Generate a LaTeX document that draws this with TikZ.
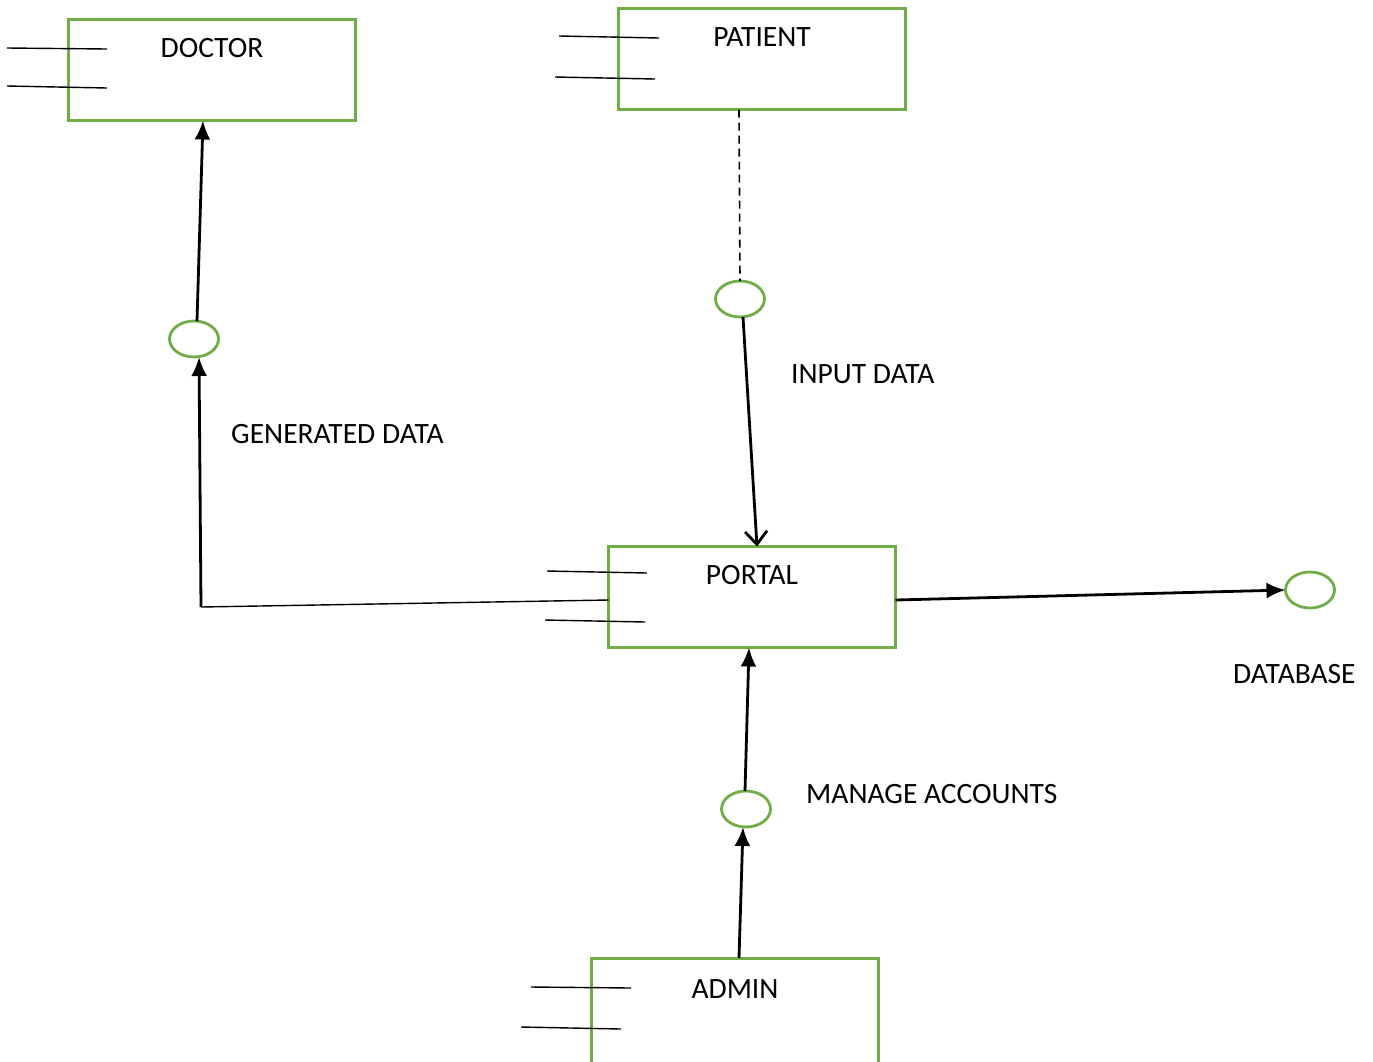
\documentclass[tikz,border=0pt]{standalone}
\usepackage{fontspec}
\setmainfont{Carlito}
\usetikzlibrary{arrows.meta,shapes.geometric,calc}
\definecolor{boxgreen}{RGB}{112,173,71}
\begin{document}
\begin{tikzpicture}[x=1pt,y=-1pt,
  entity/.style={draw=boxgreen,line width=3pt,rectangle,minimum width=287pt,minimum height=101pt,inner sep=0pt,outer sep=0pt},
  proc/.style={draw=boxgreen,line width=2.8pt,ellipse,minimum width=49pt,minimum height=36pt,inner sep=0pt,outer sep=0pt},
  lbl/.style={font=\fontsize{29.5}{33}\selectfont,inner sep=0pt,text depth=0pt},
  flow/.style={line width=2.8pt,-{Latex[length=19pt,width=16pt]}},
  openflow/.style={line width=2.8pt,-{Straight Barb[length=13pt,width=22pt]}},
  thin/.style={line width=1.4pt},
  dashline/.style={line width=1.6pt,dash pattern=on 8pt off 5pt}]
\useasboundingbox (0,0) rectangle (1373,1061);
\clip (0,0) rectangle (1373,1061);
\fill[white] (0,0) rectangle (1373,1061);

% entities
\node[entity] (doctor) at (212,70) {};
\node[entity] (patient) at (762,59) {};
\node[entity] (portal) at (752,597) {};
\node[entity, minimum height=110pt] (admin) at (735,1013) {};

\node[lbl,anchor=base] (doctorT) at (212,57) {DOCTOR};
\node[lbl,anchor=base] (patientT) at (762,46) {PATIENT};
\node[lbl,anchor=base] (portalT) at (752,584) {PORTAL};
\node[lbl,anchor=base] (adminT) at (735,998) {ADMIN};

% side strokes
\draw[thin] (7,48) -- (107,49);
\draw[thin] (7,86) -- (107,88);
\draw[thin] (559,36) -- (659,38);
\draw[thin] (555,77) -- (655,79);
\draw[thin] (547,571) -- (647,573);
\draw[thin] (545,620) -- (645,622);
\draw[thin] (531,987) -- (631,988);
\draw[thin] (521,1027) -- (621,1029);

% processes
\node[proc] (e1) at (194,339) {};
\node[proc] (e2) at (740,299) {};
\node[proc] (e3) at (1310,590) {};
\node[proc] (e4) at (746,809) {};

% labels
\node[lbl,anchor=base west] (l1) at (231,443) {GENERATED DATA};
\node[lbl,anchor=base west] (l2) at (791,383) {INPUT DATA};
\node[lbl,anchor=base west] (l3) at (1233,683) {DATABASE};
\node[lbl,anchor=base west] (l4) at (806,803) {MANAGE ACCOUNTS};

% connectors
\coordinate (corner) at (201,607);
\draw[thin] (corner) -- ([yshift=-3pt]portal.west);
\draw[flow] (corner) -- ([xshift=5pt]e1.south);
\draw[flow] ([xshift=3pt]e1.north) -- ([xshift=-9pt]doctor.south);
\draw[dashline] ([xshift=-23pt]patient.south) -- (e2.north);
\draw[openflow] ([xshift=3pt]e2.south) -- ([xshift=5pt]portal.north);
\draw[flow] ([yshift=-3pt]portal.east) -- (e3.west);
\draw[flow] ([xshift=4pt]admin.north) -- ([xshift=-3pt]e4.south);
\draw[flow] ([xshift=-1pt]e4.north) -- ([xshift=-3pt]portal.south);
\end{tikzpicture}
\end{document}
